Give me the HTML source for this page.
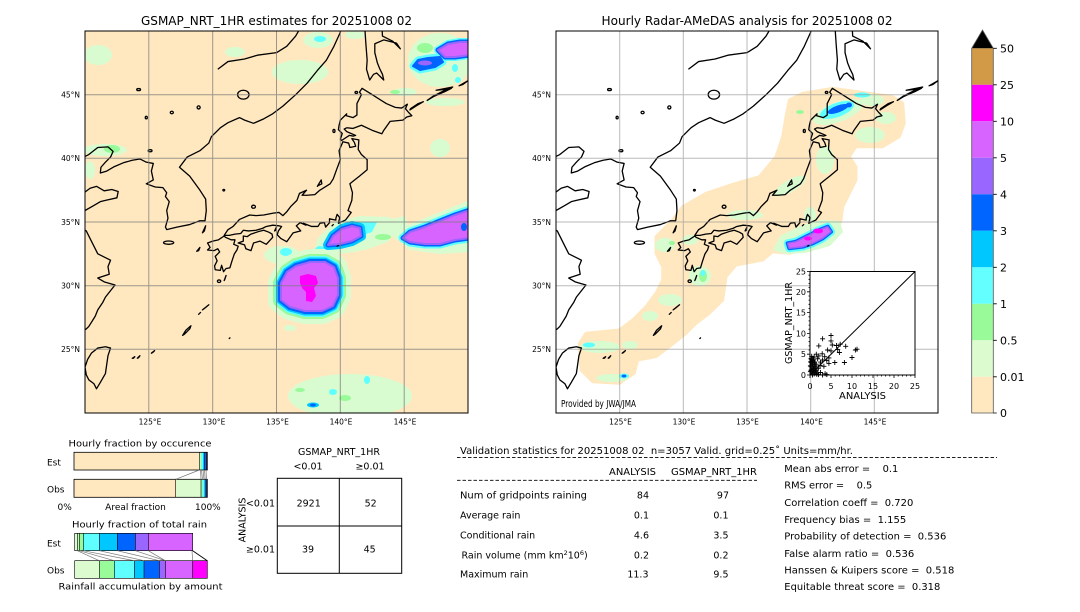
<!DOCTYPE html>
<html><head><meta charset="utf-8"><style>
html,body{margin:0;padding:0;background:#fff;}
svg{display:block;font-family:"DejaVu Sans","Liberation Sans",sans-serif;}
</style></head><body>
<svg width="1080" height="612" viewBox="0 0 1080 612" xmlns="http://www.w3.org/2000/svg">
<defs>
<clipPath id="cl"><rect x="85" y="31" width="383" height="382"/></clipPath>
<clipPath id="cr"><rect x="556" y="31" width="382" height="382"/></clipPath>
<g id="coast" fill="none" stroke="#000" stroke-width="1.3" stroke-linejoin="round">
<path vector-effect="non-scaling-stroke" d="M119.3,25 L119.8,25.6 L119.6,26.3 L120.1,26.6 L120.3,26.8 L120.8,27.6 L121,28.1 L121.4,28.7 L121.6,29.1 L122.35,30.05 L121.5,30.3 L121,30.6 L121.9,30.9 L121.8,31.5 L122,32 L121,32.5 L120.6,33.3 L120.1,34.3 L119.6,34.6 L119.3,35 L119.6,35.5 L120,35.9 L120.7,36.3 L121.2,36.6 L121.6,36.7 L122.5,36.9 L122.6,37.4 L122.1,37.55 L121.5,37.45 L120.9,37.8 L120.4,37.65 L119.8,37.2 L119,37.2"/>
<path vector-effect="non-scaling-stroke" d="M119.5,39.9 L120.3,40.3 L121,40.85 L121.8,40.9 L122.2,40.55 L122,40.1 L121.6,39.7 L121.25,39.3 L121.2,38.85 L121.7,39 L122.3,39.35 L123,39.65 L123.7,39.85 L124.3,39.95 L124.8,39.7 L125.35,39.6 L125.2,39 L125.35,38.3 L124.8,38 L125.5,37.75 L126.1,37.7 L126.4,37.3 L126.3,37 L126.6,36.6 L126.4,35.9 L126.5,35.3 L126.3,34.6 L126.4,34.4 L127.2,34.6 L128.2,34.8 L129,35.1 L129.4,35.1 L129.5,35.9 L129.45,36.8 L129,37.5 L128.2,38.6 L127.4,39.3 L128,40.1 L129,40.6 L129.7,41.2 L129.9,41.7 L130.6,42.4 L131.2,42.8 L132.1,43.2 L132.5,43 L133.2,42.75 L134,43.1 L134.7,43.5 L135.5,44.1 L136.5,45 L137.4,45.9 L138.2,46.9 L138.9,47.7 L139.5,48.8 L140,49.9 L140.1,50.5"/>
<path vector-effect="non-scaling-stroke" d="M130.4,47 L131.2,47.6 L132.5,47.8 L133.5,48.1 L135,48.3 L135.8,48.8 L136.5,49.6 L136.9,50.3"/>
<path vector-effect="non-scaling-stroke" d="M130.9,33.95 L131.2,34.4 L131.6,34.65 L132.1,35.2 L132.9,35.55 L133.4,35.5 L134,35.55 L134.75,35.7 L135.2,35.75 L135.5,35.5 L135.8,35.8 L136.1,36.2 L136.6,36.7 L136.8,37.25 L137.35,37.5 L137,37.1 L137.4,37.1 L138,37.15 L138.4,37.5 L139.2,38 L139.45,38.4 L139.7,39.1 L140,39.9 L139.9,40.6 L140.2,41.3 L140.65,41.2 L140.75,40.85 L141.2,40.95 L141.1,41.25 L140.9,41.55 L141.45,41.45 L141.4,40.7 L141.65,40.3 L142.1,39.9 L142.1,39.1 L141.5,38.6 L141.05,38.25 L140.75,38 L140.95,37.3 L140.9,36.7 L140.6,35.9 L140.85,35.75 L140.4,35.15 L139.85,34.9 L139.95,35.35 L139.75,35.6 L139.65,35.3 L139.65,35.15 L139.15,35.25 L139.15,34.95 L138.85,34.6 L138.75,34.95 L138.4,34.9 L138.25,34.65 L137.75,34.65 L137.1,34.9 L137.3,34.75 L136.85,34.95 L136.55,34.7 L136.9,34.3 L136.3,34.15 L135.8,33.45 L135.35,33.7 L135.05,34 L135.15,34.3 L135.4,34.65 L135.2,34.7 L134.7,34.75 L134.2,34.65 L133.9,34.5 L133.4,34.35 L132.8,34.3 L132.4,34.35 L132.2,34.1 L131.75,34.05 L131.3,33.95 Z"/>
<path vector-effect="non-scaling-stroke" d="M130.9,33.9 L130.45,33.6 L130,33.5 L129.6,33.35 L129.8,33 L129.6,32.8 L130.1,32.75 L130.4,32.9 L130.55,32.65 L130.2,32.3 L130.35,31.95 L130.15,31.55 L130.2,31.25 L130.6,31.2 L130.7,31.6 L130.85,31.1 L131.05,31.35 L131.35,31.4 L131.5,31.9 L131.7,32.5 L131.9,32.8 L132,33.1 L131.65,33.25 L131.75,33.6 L131.45,33.6 L131,33.8 Z"/>
<path vector-effect="non-scaling-stroke" d="M132.4,33.9 L132.7,33.85 L133,34.05 L133.6,34.25 L134,34.35 L134.4,34.2 L134.65,34.05 L134.7,33.8 L134.2,33.25 L133.7,33.5 L133.2,33.35 L133,32.75 L132.6,32.9 L132.5,33.2 L132,33.35 L132.4,33.5 Z"/>
<path vector-effect="non-scaling-stroke" d="M140.7,41.8 L140.1,41.4 L140,41.5 L140.15,41.95 L139.85,42.25 L139.9,42.6 L140,43 L140.5,43.5 L140.45,43.35 L141,43.2 L141.3,43.4 L141.3,44.3 L141.65,45 L141.5,45.2 L141.7,45.5 L142.5,45 L143.6,44.3 L144.3,44 L144.8,43.95 L145.25,44.25 L145.1,43.9 L145.35,43.6 L145.6,43.35 L145.2,43.25 L144.9,43 L144.4,42.95 L143.9,42.9 L143.4,42.2 L143.25,41.93 L142.5,42.2 L141.65,42.6 L141,42.35 L140.5,42.4 L140.3,42.3 L140.5,42.1 L141.2,41.8 L141,41.75 Z"/>
<path vector-effect="non-scaling-stroke" d="M141.9,50.5 L142,49 L142.1,47.7 L142.05,47 L142.3,46.15 L142.6,46.6 L142.85,46.7 L143.4,46.15 L143.3,46.6 L143.1,47 L142.9,47.5 L142.7,48.3 L142.7,49 L143.4,49.3 L144.4,49.05 L144.7,48.6 L144.1,49.2 L143.3,49.6 L143.25,50.5"/>
<path vector-effect="non-scaling-stroke" d="M121,25.1 L121.6,25.2 L122,25.1 L121.8,24.5 L121.6,23.1 L121.2,22.4 L120.9,21.9 L120.7,22.3 L120.3,22.6 L120.1,23 L120,23.6 L120.2,24.2 L120.5,24.7 Z"/>
<path vector-effect="non-scaling-stroke" d="M145.45,43.8 L146,44.15 L146.5,44.45 L146.1,44.3 L145.5,43.9 Z M146.8,44.55 L147.3,44.85 L148.2,45.25 L148.7,45.5 L148.2,45.35 L147.3,44.9 Z M149.3,45.7 L150,46.1 L149.6,45.8 Z M147.5,45.35 L148.8,45.6 L148.6,45.45 Z"/>
<path vector-effect="non-scaling-stroke" d="M138.2,37.8 L138.5,38.3 L138.55,38 L138.25,37.85 Z M127.65,26.1 L127.9,26.5 L128.3,26.85 L128.2,26.6 L127.8,26.2 Z M129.2,28.1 L129.7,28.5 L129.4,28.25 Z M128.9,27.75 L129.05,27.9 Z M125.2,24.7 L125.45,24.9 L125.3,24.75 Z M124.1,24.3 L124.3,24.5 L124.2,24.35 Z M123.7,24.3 L123.9,24.42 L123.8,24.3 Z M130.9,30.4 L131.05,30.8 L130.95,30.5 Z M129.2,34.15 L129.45,34.7 L129.35,34.3 Z M128.75,32.7 L129,33 L128.9,32.75 Z M134.85,34.3 L135,34.6 L134.95,34.35 Z M139.35,34.7 L139.45,34.8 Z M139.75,33.1 L139.85,33.15 Z M131.3,25.85 L131.35,25.9 Z"/>
<ellipse vector-effect="non-scaling-stroke" cx="126.55" cy="33.38" rx="0.4" ry="0.13"/>
<ellipse vector-effect="non-scaling-stroke" cx="130.5" cy="30.35" rx="0.13" ry="0.1"/>
<ellipse vector-effect="non-scaling-stroke" cx="133.2" cy="36.2" rx="0.15" ry="0.12"/>
<ellipse vector-effect="non-scaling-stroke" cx="130.87" cy="37.5" rx="0.07" ry="0.06"/>
<ellipse vector-effect="non-scaling-stroke" cx="141.25" cy="45.18" rx="0.1" ry="0.08"/>
<ellipse vector-effect="non-scaling-stroke" cx="139.5" cy="42.15" rx="0.08" ry="0.12"/>
<ellipse vector-effect="non-scaling-stroke" cx="132.4" cy="45" rx="0.45" ry="0.35"/>
<ellipse vector-effect="non-scaling-stroke" cx="124.2" cy="45.4" rx="0.15" ry="0.08"/>
<ellipse vector-effect="non-scaling-stroke" cx="126.8" cy="43.6" rx="0.12" ry="0.1"/>
<ellipse vector-effect="non-scaling-stroke" cx="128.9" cy="44" rx="0.12" ry="0.12"/>
<ellipse vector-effect="non-scaling-stroke" cx="124.8" cy="43.2" rx="0.08" ry="0.1"/>
<ellipse vector-effect="non-scaling-stroke" cx="125.1" cy="40.6" rx="0.15" ry="0.08"/>
</g>
</defs>
<rect width="1080" height="612" fill="#fff"/>

<!-- ===== LEFT PANEL ===== -->
<text x="276.5" y="25" font-size="12" text-anchor="middle" textLength="271" lengthAdjust="spacingAndGlyphs">GSMAP_NRT_1HR estimates for 20251008 02</text>
<g clip-path="url(#cl)">
<rect x="85" y="31" width="383" height="382" fill="#ffe8c0"/>
<g fill="#d8fcd0">
<ellipse cx="98" cy="55" rx="14" ry="10"/><ellipse cx="235" cy="52" rx="10" ry="5"/>
<ellipse cx="300" cy="72" rx="28" ry="12"/><ellipse cx="318" cy="40" rx="15" ry="8"/>
<ellipse cx="355" cy="35" rx="10" ry="4"/><ellipse cx="440" cy="60" rx="32" ry="27"/>
<ellipse cx="405" cy="92" rx="12" ry="4"/><ellipse cx="445" cy="102" rx="20" ry="4"/>
<ellipse cx="440" cy="148" rx="10" ry="9"/><ellipse cx="105" cy="150" rx="22" ry="6"/>
<ellipse cx="90" cy="170" rx="5" ry="9"/><ellipse cx="350" cy="396" rx="62" ry="22"/>
<ellipse cx="290" cy="328" rx="6" ry="3"/><ellipse cx="282" cy="255" rx="18" ry="9"/>
<path d="M313,256 L318,238 L335,222 L360,216 L390,217 L398,228 L388,242 L365,250 L340,254 L322,262 Z"/>
<path d="M396,238 L410,224 L440,212 L470,200 L470,252 L440,254 L410,250 Z"/>
<path d="M388,220 L405,216 L410,232 L395,240 Z"/>
</g>
<g fill="#98fa98">
<ellipse cx="112" cy="149" rx="8" ry="4"/><ellipse cx="383" cy="237" rx="8" ry="3"/>
<ellipse cx="425" cy="48" rx="8" ry="5"/><ellipse cx="345" cy="398" rx="6" ry="3"/>
<ellipse cx="300" cy="390" rx="5" ry="2"/><ellipse cx="395" cy="92" rx="5" ry="2"/>
</g>
<g fill="#60ffff">
<ellipse cx="320" cy="39" rx="6" ry="3"/><ellipse cx="455" cy="68" rx="3" ry="4"/>
<ellipse cx="458" cy="80" rx="3" ry="3"/><ellipse cx="367" cy="380" rx="3" ry="4"/>
<ellipse cx="333" cy="392" rx="4" ry="3"/><ellipse cx="286" cy="252" rx="6" ry="4"/>
<ellipse cx="320" cy="250" rx="5" ry="4"/><path d="M340,232 L360,222 L377,222 L372,232 L355,238 Z"/>
</g>
<ellipse cx="313" cy="405" rx="6" ry="2.5" fill="#00c8ff"/><ellipse cx="313" cy="405" rx="3" ry="1.5" fill="#0064ff"/>
<!-- typhoon -->
<path d="M281,283 L287,272 L296,266 L310,262 L325,262 L334,267 L338,278 L338,295 L333,306 L322,311 L305,311 L290,307 L281,300 Z" fill="#d8fcd0" stroke="#d8fcd0" stroke-width="26" stroke-linejoin="round"/>
<path d="M281,283 L287,272 L296,266 L310,262 L325,262 L334,267 L338,278 L338,295 L333,306 L322,311 L305,311 L290,307 L281,300 Z" fill="#98fa98" stroke="#98fa98" stroke-width="16" stroke-linejoin="round"/>
<path d="M281,283 L287,272 L296,266 L310,262 L325,262 L334,267 L338,278 L338,295 L333,306 L322,311 L305,311 L290,307 L281,300 Z" fill="#60ffff" stroke="#60ffff" stroke-width="12" stroke-linejoin="round"/>
<path d="M281,283 L287,272 L296,266 L310,262 L325,262 L334,267 L338,278 L338,295 L333,306 L322,311 L305,311 L290,307 L281,300 Z" fill="#00c8ff" stroke="#00c8ff" stroke-width="9" stroke-linejoin="round"/>
<path d="M281,283 L287,272 L296,266 L310,262 L325,262 L334,267 L338,278 L338,295 L333,306 L322,311 L305,311 L290,307 L281,300 Z" fill="#0064ff" stroke="#0064ff" stroke-width="6" stroke-linejoin="round"/>
<path d="M281,283 L287,272 L296,266 L310,262 L325,262 L334,267 L338,278 L338,295 L333,306 L322,311 L305,311 L290,307 L281,300 Z" fill="#d864ff" stroke="#9966ff" stroke-width="2" stroke-linejoin="round"/>
<path d="M300,276 L308,274 L316,276 L318,283 L314,288 L316,296 L312,302 L306,301 L306,292 L302,288 L300,283 Z" fill="#ff00ff"/>
<!-- 35N band -->
<path d="M328,245 L333,236 L342,229 L352,226 L360,228 L361,236 L352,241 L340,244 Z" fill="#00c8ff" stroke="#00c8ff" stroke-width="10" stroke-linejoin="round"/>
<path d="M328,245 L333,236 L342,229 L352,226 L360,228 L361,236 L352,241 L340,244 Z" fill="#0064ff" stroke="#0064ff" stroke-width="5" stroke-linejoin="round"/>
<path d="M328,245 L333,236 L342,229 L352,226 L360,228 L361,236 L352,241 L340,244 Z" fill="#d864ff" stroke="#9966ff" stroke-width="2" stroke-linejoin="round"/>
<!-- east band -->
<path d="M403,238 L410,232 L425,227 L440,221 L455,215 L470,210 L470,238 L455,240 L440,244 L425,244 L410,242 Z" fill="#60ffff" stroke="#60ffff" stroke-width="9" stroke-linejoin="round"/>
<path d="M403,238 L410,232 L425,227 L440,221 L455,215 L470,210 L470,238 L455,240 L440,244 L425,244 L410,242 Z" fill="#0064ff" stroke="#0064ff" stroke-width="5" stroke-linejoin="round"/>
<path d="M403,238 L410,232 L425,227 L440,221 L455,215 L470,210 L470,238 L455,240 L440,244 L425,244 L410,242 Z" fill="#d864ff" stroke="#9966ff" stroke-width="2" stroke-linejoin="round"/>
<ellipse cx="464" cy="227" rx="3" ry="4" fill="#0064ff"/>
<!-- top right -->
<path d="M413,66 L418,60 L428,58 L440,57 L443,62 L435,67 L420,70 Z" fill="#60ffff" stroke="#60ffff" stroke-width="7" stroke-linejoin="round"/>
<path d="M438,50 L448,44 L460,42 L470,42 L470,55 L455,57 L445,57 Z" fill="#60ffff" stroke="#60ffff" stroke-width="8" stroke-linejoin="round"/>
<path d="M413,66 L418,60 L428,58 L440,57 L443,62 L435,67 L420,70 Z" fill="#0064ff" stroke="#0064ff" stroke-width="2" stroke-linejoin="round"/>
<ellipse cx="425" cy="63" rx="7" ry="2.5" fill="#9966ff"/>
<path d="M438,50 L448,44 L460,42 L470,42 L470,55 L455,57 L445,57 Z" fill="#0064ff" stroke="#0064ff" stroke-width="5" stroke-linejoin="round"/>
<path d="M438,50 L448,44 L460,42 L470,42 L470,55 L455,57 L445,57 Z" fill="#d864ff" stroke="#9966ff" stroke-width="2" stroke-linejoin="round"/>
<use href="#coast" transform="translate(85,413) scale(12.767,-12.733) translate(-120,-20)"/>
<g stroke="#7a7a7a" stroke-opacity="0.75" stroke-width="1">
<path d="M148.8,31V413 M212.7,31V413 M276.5,31V413 M340.3,31V413 M404.2,31V413 M85,349.3H468 M85,285.7H468 M85,222H468 M85,158.3H468 M85,94.7H468"/>
</g>
</g>
<rect x="85" y="31" width="383" height="382" fill="none" stroke="#000" stroke-width="1"/>
<g font-size="7.5" text-anchor="end">
<text x="80" y="97.5">45°N</text><text x="80" y="161">40°N</text><text x="80" y="225">35°N</text><text x="80" y="288.5">30°N</text><text x="80" y="352">25°N</text>
</g>
<g font-size="7.5" text-anchor="middle">
<text x="150" y="424.5">125°E</text><text x="214" y="424.5">130°E</text><text x="277.5" y="424.5">135°E</text><text x="341" y="424.5">140°E</text><text x="405" y="424.5">145°E</text>
</g>

<!-- ===== RIGHT PANEL ===== -->
<text x="747" y="25" font-size="12" text-anchor="middle" textLength="291" lengthAdjust="spacingAndGlyphs">Hourly Radar-AMeDAS analysis for 20251008 02</text>
<g clip-path="url(#cr)">
<rect x="556" y="31" width="382" height="382" fill="#fff"/>
<path d="M579.3,343.3 L581,370 L592.7,381.7 L619.3,383.3 L634.3,373.3 L637.7,360 L656,356.7 L669.3,346.7 L686,333.3 L696,323.3 L709.3,313.3 L722.7,300 L726,276.7 L736,265 L762.7,260 L772.7,251.7 L789.3,253.3 L809.3,248.3 L836,233.3 L841,220 L842.7,206.7 L856,180 L856,166.7 L849.3,156.7 L856,146.7 L882.7,146.7 L899.3,136.7 L904.3,123.3 L902.7,103.3 L892.7,96.7 L869.3,93.3 L832.7,88.3 L802.7,93.3 L789.3,100 L786,116.7 L782.7,136.7 L776,156.7 L759.3,176.7 L736,183.3 L706,193.3 L682.7,206.7 L672.7,220 L656,236.7 L656,253.3 L662.7,266.7 L662.7,280 L656,293.3 L646,306.7 L632.7,320 L619.3,330 L586,333.3 Z" fill="#ffe8c0" stroke="#ffe8c0" stroke-width="3" stroke-linejoin="round"/>
<g fill="#d8fcd0">
<ellipse cx="838" cy="112" rx="26" ry="10" transform="rotate(-20 838 112)"/>
<ellipse cx="872" cy="100" rx="12" ry="6"/><ellipse cx="870" cy="135" rx="15" ry="8"/>
<ellipse cx="886" cy="118" rx="10" ry="6"/><ellipse cx="825" cy="160" rx="9" ry="14"/>
<ellipse cx="790" cy="186" rx="18" ry="6" transform="rotate(-30 790 186)"/>
<ellipse cx="745" cy="215" rx="18" ry="5"/><ellipse cx="665" cy="245" rx="10" ry="7"/>
<ellipse cx="700" cy="276" rx="11" ry="10"/><ellipse cx="670" cy="300" rx="12" ry="6"/>
<ellipse cx="650" cy="316" rx="8" ry="5"/><ellipse cx="600" cy="347" rx="20" ry="6"/>
<ellipse cx="612" cy="378" rx="16" ry="4"/><ellipse cx="690" cy="240" rx="8" ry="5"/>
<ellipse cx="630" cy="345" rx="8" ry="4"/><ellipse cx="810" cy="215" rx="6" ry="8"/>
<path d="M773,250 L780,236 L800,226 L820,220 L840,221 L843,232 L830,246 L805,253 L785,254 Z"/>
</g>
<g fill="#98fa98"><ellipse cx="703" cy="276" rx="4" ry="6"/><ellipse cx="672" cy="243" rx="3" ry="2"/><ellipse cx="800" cy="112" rx="4" ry="2"/></g>
<g fill="#60ffff"><ellipse cx="703" cy="273" rx="2.5" ry="3"/><ellipse cx="589" cy="345" rx="6" ry="2.5"/><ellipse cx="862" cy="95" rx="8" ry="2.5"/>
<ellipse cx="837" cy="110" rx="18" ry="7" transform="rotate(-20 837 110)"/><ellipse cx="624" cy="376" rx="5" ry="2.5"/></g>
<g fill="#0064ff"><ellipse cx="838" cy="109" rx="11" ry="3.5" transform="rotate(-20 838 109)"/><ellipse cx="849" cy="105" rx="3" ry="2.5"/><ellipse cx="624" cy="376" rx="2.5" ry="1.5"/></g>
<path d="M787.7,243.3 L796,241.7 L809.3,235 L819.3,230 L827.7,226.7 L831,231.7 L822.7,238.3 L812.7,243.3 L802.7,246.7 L789.3,248.3 Z" fill="#60ffff" stroke="#60ffff" stroke-width="8" stroke-linejoin="round"/>
<path d="M787.7,243.3 L796,241.7 L809.3,235 L819.3,230 L827.7,226.7 L831,231.7 L822.7,238.3 L812.7,243.3 L802.7,246.7 L789.3,248.3 Z" fill="#0064ff" stroke="#0064ff" stroke-width="4" stroke-linejoin="round"/>
<path d="M787.7,243.3 L796,241.7 L809.3,235 L819.3,230 L827.7,226.7 L831,231.7 L822.7,238.3 L812.7,243.3 L802.7,246.7 L789.3,248.3 Z" fill="#d864ff" stroke="#9966ff" stroke-width="1.5" stroke-linejoin="round"/>
<ellipse cx="818" cy="231" rx="5" ry="2.5" fill="#ff00ff"/><ellipse cx="808" cy="238.5" rx="4" ry="2" fill="#ff00ff"/>
<use href="#coast" transform="translate(556,413) scale(12.733,-12.733) translate(-120,-20)"/>
<g stroke="#8c8c8c" stroke-opacity="0.6" stroke-width="1">
<path d="M619.7,31V413 M683.3,31V413 M747,31V413 M810.7,31V413 M874.3,31V413 M556,349.3H938 M556,285.7H938 M556,222H938 M556,158.3H938 M556,94.7H938"/>
</g>
<rect x="810" y="271.5" width="105" height="103.5" fill="#fff"/>
</g>
<rect x="556" y="31" width="382" height="382" fill="none" stroke="#000" stroke-width="1"/>
<text x="561" y="407" font-size="10" textLength="75" lengthAdjust="spacingAndGlyphs">Provided by JWA/JMA</text>
<g font-size="7.5" text-anchor="end">
<text x="551" y="97.5">45°N</text><text x="551" y="161">40°N</text><text x="551" y="225">35°N</text><text x="551" y="288.5">30°N</text><text x="551" y="352">25°N</text>
</g>
<g font-size="7.5" text-anchor="middle">
<text x="620.5" y="424.5">125°E</text><text x="684" y="424.5">130°E</text><text x="747.5" y="424.5">135°E</text><text x="811.5" y="424.5">140°E</text><text x="875" y="424.5">145°E</text>
</g>

<!-- scatter inset -->
<rect x="810" y="271.5" width="105" height="103.5" fill="none" stroke="#000" stroke-width="1"/>
<line x1="810" y1="375" x2="915" y2="271.5" stroke="#000" stroke-width="1"/>
<g stroke="#000" stroke-width="0.8">
<path d="M810,375v3 M831,375v3 M852,375v3 M873,375v3 M894,375v3 M915,375v3 M810,375h-3 M810,354.2h-3 M810,333.4h-3 M810,312.6h-3 M810,291.8h-3 M810,271.5h-3"/>
<path d="M814.2,375v1.5 M818.4,375v1.5 M822.6,375v1.5 M826.8,375v1.5 M835.2,375v1.5 M839.4,375v1.5 M843.6,375v1.5 M847.8,375v1.5 M856.2,375v1.5 M860.4,375v1.5 M864.6,375v1.5 M868.8,375v1.5 M877.2,375v1.5 M881.4,375v1.5 M885.6,375v1.5 M889.8,375v1.5 M898.2,375v1.5 M902.4,375v1.5 M906.6,375v1.5 M910.8,375v1.5 M810,370.8h-1.5 M810,366.7h-1.5 M810,362.5h-1.5 M810,358.4h-1.5 M810,350h-1.5 M810,345.9h-1.5 M810,341.7h-1.5 M810,337.6h-1.5 M810,329.2h-1.5 M810,325.1h-1.5 M810,320.9h-1.5 M810,316.8h-1.5 M810,308.4h-1.5 M810,304.3h-1.5 M810,300.1h-1.5 M810,296h-1.5 M810,287.6h-1.5 M810,283.5h-1.5 M810,279.3h-1.5 M810,275.2h-1.5"/>
</g>
<path fill="none" stroke="#000" stroke-width="0.9" d="M820.1,338.8h5M822.6,336.3v5 M828.5,335.5h5M831,333v5 M828.5,340.9h5M831,338.4v5 M829.8,345h5M832.3,342.5v5 M825.1,350h5M827.6,347.5v5 M816.3,345.9h5M818.8,343.4v5 M819.7,353.8h5M822.2,351.3v5 M813.8,354.2h5M816.3,351.7v5 M816.3,355.9h5M818.8,353.4v5 M811.7,357.1h5M814.2,354.6v5 M818,362.1h5M820.5,359.6v5 M824.3,360.4h5M826.8,357.9v5 M828.5,350.9h5M831,348.4v5 M834,345.5h5M836.5,343v5 M837.7,344.2h5M840.2,341.7v5 M836.9,352.5h5M839.4,350v5 M843.2,346.3h5M845.7,343.8v5 M852.9,350h5M855.4,347.5v5 M854.5,349.2h5M857,346.7v5 M849.5,357.5h5M852,355v5 M841.9,362.5h5M844.4,360v5 M832.3,362.5h5M834.8,360v5 M826.4,363.4h5M828.9,360.9v5 M821.4,366.3h5M823.9,363.8v5 M815.9,368.3h5M818.4,365.8v5 M812.5,366.3h5M815,363.8v5 M810,362.5h5M812.5,360v5 M808.8,370h5M811.3,367.5v5 M811.7,372.9h5M814.2,370.4v5 M815.9,374.6h5M818.4,372.1v5 M820.1,375h5M822.6,372.5v5 M822.6,373.8h5M825.1,371.3v5 M818,372.5h5M820.5,370v5 M810,375h5M812.5,372.5v5 M807.9,365.8h5M810.4,363.3v5 M808.3,361.7h5M810.8,359.2v5 M810.9,360h5M813.4,357.5v5 M813.8,364.2h5M816.3,361.7v5 M826.4,357.9h5M828.9,355.4v5 M822.2,356.7h5M824.7,354.2v5 M835.2,349.6h5M837.7,347.1v5 M815.1,358.8h5M817.6,356.3v5 M809.2,356.3h5M811.7,353.8v5 M811.3,368.3h5M813.8,365.8v5 M813,370.8h5M815.5,368.3v5 M809.6,364.6h5M812.1,362.1v5 M807.9,371.7h5M810.4,369.2v5 M810.4,369.6h5M812.9,367.1v5 M814.2,374.2h5M816.7,371.7v5 M817.6,365.4h5M820.1,362.9v5 M820.1,360h5M822.6,357.5v5 M824.3,374.6h5M826.8,372.1v5 M812.1,362.1h5M814.6,359.6v5 M808.8,359.2h5M811.3,356.7v5"/>
<path d="M810,375 L810,358 L813,357 L816,362 L817,368 L819,373 L820,375 Z" fill="#000" opacity="0.85"/>
<g font-size="8" text-anchor="middle">
<text x="810" y="389">0</text><text x="831" y="389">5</text><text x="852" y="389">10</text><text x="873" y="389">15</text><text x="894" y="389">20</text><text x="915" y="389">25</text>
</g>
<g font-size="8" text-anchor="end">
<text x="806" y="378">0</text><text x="806" y="357">5</text><text x="806" y="336.5">10</text><text x="806" y="315.5">15</text><text x="806" y="295">20</text><text x="806" y="274.5">25</text>
</g>
<text x="862.5" y="399" font-size="10" text-anchor="middle" textLength="47" lengthAdjust="spacingAndGlyphs">ANALYSIS</text>
<text transform="translate(792,323) rotate(-90)" font-size="10" text-anchor="middle" textLength="82" lengthAdjust="spacingAndGlyphs">GSMAP_NRT_1HR</text>

<!-- colorbar -->
<rect x="971.7" y="48.3" width="21.6" height="36.5" fill="#d29a46"/>
<rect x="971.7" y="84.8" width="21.6" height="36.5" fill="#ff00ff"/>
<rect x="971.7" y="121.3" width="21.6" height="36.5" fill="#d864ff"/>
<rect x="971.7" y="157.8" width="21.6" height="36.5" fill="#9966ff"/>
<rect x="971.7" y="194.3" width="21.6" height="36.5" fill="#0064ff"/>
<rect x="971.7" y="230.8" width="21.6" height="36.5" fill="#00c8ff"/>
<rect x="971.7" y="267.3" width="21.6" height="36.5" fill="#64ffff"/>
<rect x="971.7" y="303.8" width="21.6" height="36.5" fill="#98fa98"/>
<rect x="971.7" y="340.3" width="21.6" height="36.5" fill="#dcfcd0"/>
<rect x="971.7" y="376.8" width="21.6" height="36.2" fill="#ffe8c0"/>
<polygon points="971.7,48.3 993.3,48.3 982.5,30" fill="#000"/>
<path d="M971.7,48.3 L982.5,30 L993.3,48.3 V413 H971.7 Z" fill="none" stroke="#555" stroke-width="0.8"/>
<path d="M993.3,48.3h3.5 M993.3,84.8h3.5 M993.3,121.3h3.5 M993.3,157.8h3.5 M993.3,194.3h3.5 M993.3,230.8h3.5 M993.3,267.3h3.5 M993.3,303.8h3.5 M993.3,340.3h3.5 M993.3,376.8h3.5 M993.3,413h3.5" stroke="#000" stroke-width="0.8"/>
<g font-size="11">
<text x="1000" y="52.5">50</text><text x="1000" y="89">25</text><text x="1000" y="125.5">10</text><text x="1000" y="162">5</text><text x="1000" y="198.5">4</text><text x="1000" y="235">3</text><text x="1000" y="271.5">2</text><text x="1000" y="308">1</text><text x="1000" y="344.5">0.5</text><text x="1000" y="381">0.01</text><text x="1000" y="417">0</text>
</g>

<!-- ===== BOTTOM LEFT: fractions ===== -->
<g font-size="9">
<text x="140" y="446.5" text-anchor="middle" textLength="143" lengthAdjust="spacingAndGlyphs">Hourly fraction by occurence</text>
<text x="47" y="465.5">Est</text><text x="47" y="492.5">Obs</text>
<text x="57.5" y="510">0%</text><text x="135.5" y="510" text-anchor="middle">Areal fraction</text><text x="195" y="510">100%</text>
<text x="139.5" y="527.5" text-anchor="middle" textLength="135" lengthAdjust="spacingAndGlyphs">Hourly fraction of total rain</text>
<text x="47" y="546.5">Est</text><text x="47" y="573.5">Obs</text>
<text x="140.5" y="589.5" text-anchor="middle" textLength="164" lengthAdjust="spacingAndGlyphs">Rainfall accumulation by amount</text>
</g>
<!-- occurrence bars -->
<rect x="74" y="452.3" width="125.3" height="17.7" fill="#ffe8c0"/>
<rect x="199.3" y="452.3" width="1.2" height="17.7" fill="#d8fcd0"/>
<rect x="200.5" y="452.3" width="1" height="17.7" fill="#98fa98"/>
<rect x="201.5" y="452.3" width="1.5" height="17.7" fill="#60ffff"/>
<rect x="203" y="452.3" width="1.5" height="17.7" fill="#00c8ff"/>
<rect x="204.5" y="452.3" width="1.5" height="17.7" fill="#0064ff"/>
<rect x="206" y="452.3" width="1.3" height="17.7" fill="#202050"/>
<rect x="74" y="452.3" width="133.3" height="17.7" fill="none" stroke="#000" stroke-width="0.8"/>
<path d="M199.3,452.3v17.7 M204.5,452.3v17.7" stroke="#000" stroke-width="0.6"/>
<rect x="74" y="479.3" width="101.7" height="18" fill="#ffe8c0"/>
<rect x="175.7" y="479.3" width="25.3" height="18" fill="#dcfcd0"/>
<rect x="201" y="479.3" width="1.5" height="18" fill="#98fa98"/>
<rect x="202.5" y="479.3" width="1.5" height="18" fill="#60ffff"/>
<rect x="204" y="479.3" width="1.2" height="18" fill="#00c8ff"/>
<rect x="205.2" y="479.3" width="2.1" height="18" fill="#1a2a70"/>
<rect x="74" y="479.3" width="133.3" height="18" fill="none" stroke="#000" stroke-width="0.8"/>
<path d="M175.7,479.3v18 M201,479.3v18" stroke="#000" stroke-width="0.6"/>
<path d="M199.3,470 L175.7,479.3 M200.5,470 L201,479.3 M201.5,470 L202.5,479.3 M203,470 L204,479.3 M204.5,470 L205.2,479.3 M206,470 L206.5,479.3" stroke="#777" stroke-width="0.7" fill="none"/>
<!-- total rain bars -->
<rect x="74.7" y="533.3" width="2.6" height="17.4" fill="#dcfcd0"/>
<rect x="77.3" y="533.3" width="2" height="17.4" fill="#c0f8b8"/>
<rect x="79.3" y="533.3" width="4" height="17.4" fill="#98fa98"/>
<rect x="83.3" y="533.3" width="16" height="17.4" fill="#60ffff"/>
<rect x="99.3" y="533.3" width="18" height="17.4" fill="#00c8ff"/>
<rect x="117.3" y="533.3" width="18" height="17.4" fill="#0064ff"/>
<rect x="135.3" y="533.3" width="13" height="17.4" fill="#9966ff"/>
<rect x="148.3" y="533.3" width="44.4" height="17.4" fill="#d864ff"/>
<path d="M74.7,533.3h118v17.4h-118z M77.3,533.3v17.4 M79.3,533.3v17.4 M83.3,533.3v17.4 M99.3,533.3v17.4 M117.3,533.3v17.4 M135.3,533.3v17.4 M148.3,533.3v17.4" fill="none" stroke="#000" stroke-width="0.6"/>
<rect x="74.7" y="560.7" width="24.6" height="17.6" fill="#dcfcd0"/>
<rect x="99.3" y="560.7" width="15" height="17.6" fill="#98fa98"/>
<rect x="114.3" y="560.7" width="20" height="17.6" fill="#60ffff"/>
<rect x="134.3" y="560.7" width="9.7" height="17.6" fill="#00c8ff"/>
<rect x="144" y="560.7" width="15.3" height="17.6" fill="#0064ff"/>
<rect x="159.3" y="560.7" width="6" height="17.6" fill="#9966ff"/>
<rect x="165.3" y="560.7" width="27.4" height="17.6" fill="#d864ff"/>
<rect x="192.7" y="560.7" width="14.6" height="17.6" fill="#ff00ff"/>
<path d="M74.7,560.7h132.6v17.6h-132.6z M99.3,560.7v17.6 M114.3,560.7v17.6 M134.3,560.7v17.6 M144,560.7v17.6 M159.3,560.7v17.6 M165.3,560.7v17.6 M192.7,560.7v17.6" fill="none" stroke="#000" stroke-width="0.6"/>
<path d="M77.3,550.7 L99.3,560.7 M79.3,550.7 L114.3,560.7 M83.3,550.7 L134.3,560.7 M99.3,550.7 L144,560.7 M117.3,550.7 L159.3,560.7 M135.3,550.7 L165.3,560.7 M148.3,550.7 L165.3,560.7 M192,551 L192.7,560.7" stroke="#777" stroke-width="0.7" fill="none"/>
<path d="M192.7,550.7 L207.3,560.7" stroke="#000" stroke-width="0.9"/>

<!-- ===== contingency table ===== -->
<g font-size="9.5" text-anchor="middle">
<text x="339" y="455">GSMAP_NRT_1HR</text>
<text x="308" y="469.5">&lt;0.01</text><text x="370" y="469.5">≥0.01</text>
<text x="308.7" y="506.5">2921</text><text x="370.7" y="506.5">52</text>
<text x="308" y="552.5">39</text><text x="369.7" y="552.5">45</text>
</g>
<g font-size="9.5" text-anchor="end">
<text x="275" y="506.5">&lt;0.01</text><text x="275" y="552.5">≥0.01</text>
</g>
<text transform="translate(245.5,520) rotate(-90)" font-size="9.5" text-anchor="middle">ANALYSIS</text>
<rect x="277.3" y="478.3" width="124.4" height="95" fill="none" stroke="#000" stroke-width="1"/>
<path d="M339.3,478.3V573.3 M277.3,526H401.7" stroke="#000" stroke-width="1"/>

<!-- ===== validation stats ===== -->
<text x="460" y="454" font-size="9.5" textLength="393" lengthAdjust="spacingAndGlyphs">Validation statistics for 20251008 02&#160; n=3057 Valid. grid=0.25˚ Units=mm/hr.</text>
<line x1="457" y1="457.6" x2="997" y2="457.6" stroke="#000" stroke-width="0.9" stroke-dasharray="3.5,2"/>
<g font-size="9.5">
<text x="609" y="475" textLength="47" lengthAdjust="spacingAndGlyphs">ANALYSIS</text>
<text x="671" y="475" textLength="86" lengthAdjust="spacingAndGlyphs">GSMAP_NRT_1HR</text>
</g>
<line x1="457" y1="480.3" x2="757" y2="480.3" stroke="#000" stroke-width="0.9" stroke-dasharray="3.5,2"/>
<g font-size="9.5">
<text x="460" y="498.5" textLength="127" lengthAdjust="spacingAndGlyphs">Num of gridpoints raining</text>
<text x="460" y="518.5">Average rain</text>
<text x="460" y="538.5">Conditional rain</text>
<text x="461.5" y="558.5">Rain volume (mm km<tspan font-size="6.5" dy="-3.5">2</tspan><tspan dy="3.5">10</tspan><tspan font-size="6.5" dy="-3.5">6</tspan><tspan dy="3.5">)</tspan></text>
<text x="460" y="577.5">Maximum rain</text>
</g>
<g font-size="9.5" text-anchor="end">
<text x="649" y="498.5">84</text><text x="649" y="518.5">0.1</text><text x="649" y="538.5">4.6</text><text x="649" y="558.5">0.2</text><text x="648.5" y="577.5">11.3</text>
<text x="729" y="498.5">97</text><text x="728.5" y="518.5">0.1</text><text x="728.5" y="538.5">3.5</text><text x="728.5" y="558.5">0.2</text><text x="728.5" y="577.5">9.5</text>
</g>
<g font-size="9.5">
<text x="784.3" y="471.8" textLength="114" lengthAdjust="spacingAndGlyphs">Mean abs error =&#160;&#160;&#160;&#160;0.1</text>
<text x="784.3" y="488.5" textLength="88" lengthAdjust="spacingAndGlyphs">RMS error =&#160;&#160;&#160;&#160;0.5</text>
<text x="784.3" y="505.8" textLength="129" lengthAdjust="spacingAndGlyphs">Correlation coeff =&#160;&#160;0.720</text>
<text x="784.3" y="522.8" textLength="122" lengthAdjust="spacingAndGlyphs">Frequency bias =&#160;&#160;1.155</text>
<text x="784.3" y="539.5" textLength="162" lengthAdjust="spacingAndGlyphs">Probability of detection =&#160;&#160;0.536</text>
<text x="784.3" y="556.8" textLength="130" lengthAdjust="spacingAndGlyphs">False alarm ratio =&#160;&#160;0.536</text>
<text x="784.3" y="573.5" textLength="170" lengthAdjust="spacingAndGlyphs">Hanssen &amp; Kuipers score =&#160;&#160;0.518</text>
<text x="784.3" y="590.2" textLength="156" lengthAdjust="spacingAndGlyphs">Equitable threat score =&#160;&#160;0.318</text>
</g>
</svg>
</body></html>
